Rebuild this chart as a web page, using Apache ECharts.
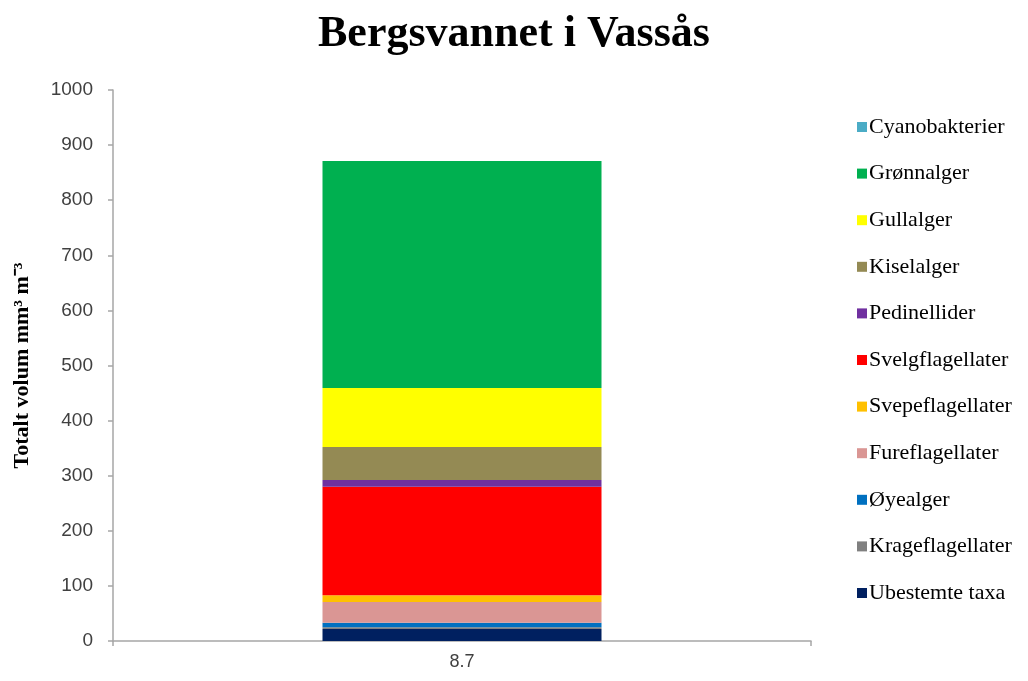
<!DOCTYPE html>
<html>
<head>
<meta charset="utf-8">
<script src="https://cdn.jsdelivr.net/npm/echarts@6/dist/echarts.min.js"></script>
<style>html,body{margin:0;padding:0;background:#fff;}#c{width:1028px;height:681px;}</style>
</head>
<body>
<div id="c"></div>
<script>
const categories = ['8.7'];
// series from bottom to top of the stack
const groups = ['Ubestemte taxa','Krageflagellater','Øyealger','Fureflagellater','Svepeflagellater','Svelgflagellater','Pedinellider','Kiselalger','Gullalger','Grønnalger','Cyanobakterier'];
const ubestemte = [22];
const krage = [3];
const oyealger = [8];
const fure = [38];
const svepe = [12];
const svelg = [197];
const pedinellider = [12];
const kisel = [60];
const gull = [107];
const gronn = [412];
const cyano = [0];
const values = [ubestemte, krage, oyealger, fure, svepe, svelg, pedinellider, kisel, gull, gronn, cyano];
const colors = ['#002060','#808080','#0070C0','#DA9694','#FFC000','#FF0000','#7030A0','#948A54','#FFFF00','#00B050','#4BACC6'];
const yTicks = [0,100,200,300,400,500,600,700,800,900,1000];

const chart = echarts.init(document.getElementById('c'));
chart.setOption({
  animation: false,
  backgroundColor: '#fff',
  title: {
    text: 'Bergsvannet i Vassås',
    left: 'center',
    top: 8,
    textStyle: {fontFamily: 'Liberation Serif', fontWeight: 'bold', fontSize: 44, color: '#000'}
  },
  legend: {
    orient: 'vertical',
    left: 852,
    top: 111,
    itemWidth: 10,
    itemHeight: 10,
    itemGap: 24.6,
    icon: 'rect',
    data: groups.slice().reverse(),
    textStyle: {fontFamily: 'Liberation Serif', fontSize: 22, color: '#000', lineHeight: 22, padding: [0,0,0,-3]}
  },
  grid: {left: 113, right: 217, top: 90, bottom: 40, containLabel: false, outerBoundsMode: 'none'},
  xAxis: {
    type: 'category',
    data: categories,
    axisLine: {lineStyle: {color: '#A6A6A6', width: 1.5}},
    axisTick: {show: true, length: 5, lineStyle: {color: '#A6A6A6', width: 1.5}},
    axisLabel: {fontFamily: 'Liberation Sans', fontSize: 18, color: '#404040', margin: 12}
  },
  yAxis: {
    type: 'value',
    min: 0, max: 1000, interval: 100,
    name: 'Totalt volum mm³ m⁻³',
    nameLocation: 'middle',
    nameGap: 80,
    nameTextStyle: {fontFamily: 'Liberation Serif', fontWeight: 'bold', fontSize: 22, color: '#000'},
    axisLine: {show: true, lineStyle: {color: '#A6A6A6', width: 1.5}},
    axisTick: {show: true, length: 5, lineStyle: {color: '#A6A6A6', width: 1.5}},
    splitLine: {show: false},
    axisLabel: {fontFamily: 'Liberation Sans', fontSize: 19, color: '#404040', margin: 20,
      formatter: v => yTicks.includes(v) ? String(v) : ''}
  },
  series: groups.map((g, i) => ({
    name: g,
    type: 'bar',
    stack: 'total',
    barWidth: 279,
    data: values[i],
    itemStyle: {color: colors[i]}
  }))
});
</script>
</body>
</html>
